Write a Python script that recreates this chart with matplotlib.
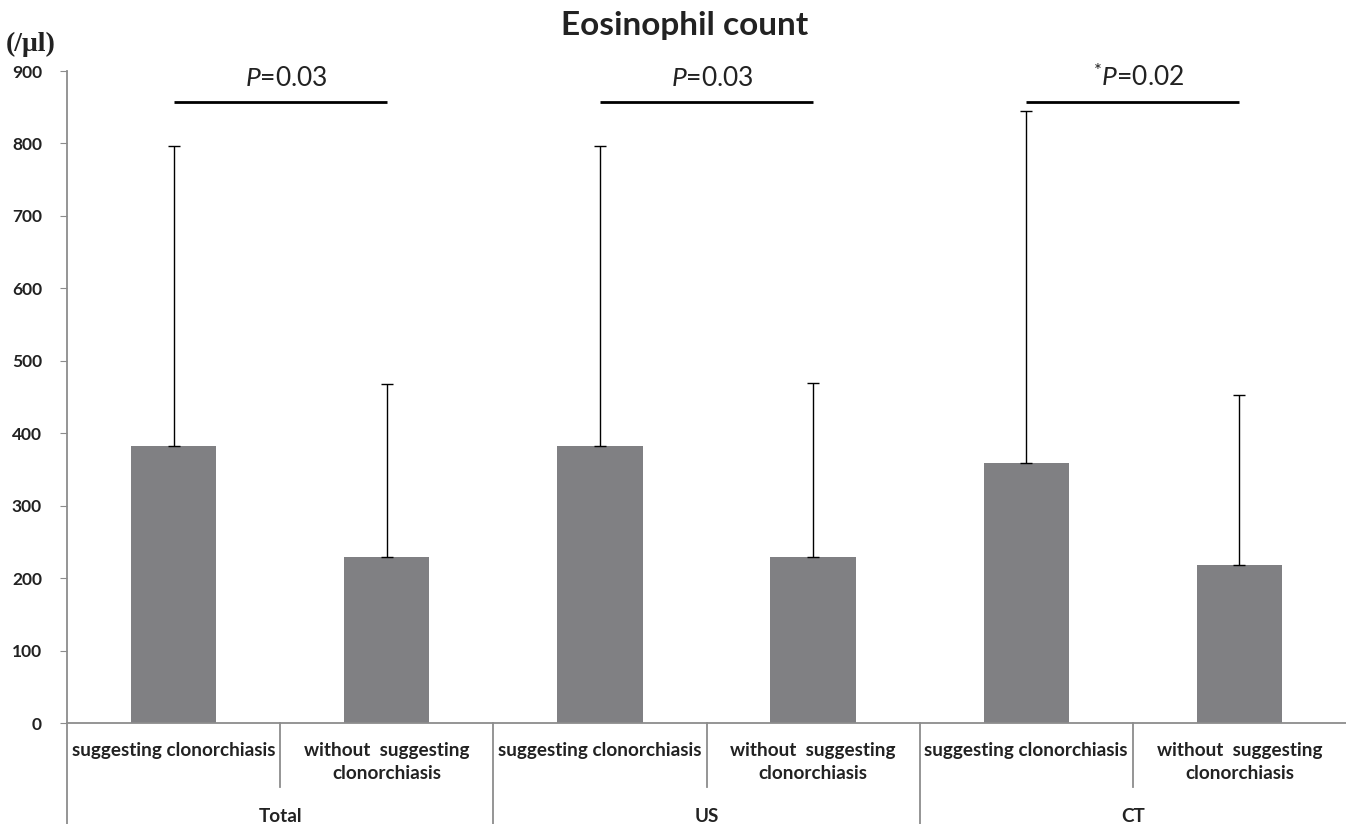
import matplotlib
matplotlib.use('Agg')
import matplotlib.pyplot as plt
import numpy as np

plt.rcParams['font.family'] = ['Lato', 'DejaVu Sans']
plt.rcParams['mathtext.fontset'] = 'custom'
plt.rcParams['mathtext.rm'] = 'Lato'
plt.rcParams['mathtext.it'] = 'Lato:italic'

groups = ['Total', 'US', 'CT']
categories = ['suggesting clonorchiasis', 'without  suggesting\nclonorchiasis'] * 3
means = [382, 229, 382, 229, 359, 218]
upper = [796, 468, 796, 469, 845, 453]
p_labels = [r'$\mathit{P}$=0.03', r'$\mathit{P}$=0.03', r'$^{*}\mathit{P}$=0.02']
yticks = [0, 100, 200, 300, 400, 500, 600, 700, 800, 900]

bar_color = '#808083'
axis_color = '#8c8c8c'
text_color = '#222222'

fig = plt.figure(figsize=(13.46, 8.24), dpi=100)
ax = fig.add_axes([67 / 1346, 101 / 824, 1279 / 1346, 652 / 824])

x = np.arange(len(means))
err = np.array(upper) - np.array(means)
ax.bar(x, means, width=0.4, color=bar_color, zorder=2)
ax.errorbar(x, means, yerr=[np.zeros_like(err), err], fmt='none',
            ecolor='black', elinewidth=1, capsize=4, capthick=1, zorder=3)

ax.set_xlim(-0.5, 5.5)
ax.set_ylim(0, 900)
ax.set_yticks(yticks)
ax.set_yticklabels([str(v) for v in yticks], fontweight='bold', fontsize=12.5,
                   color=text_color)
ax.tick_params(axis='y', length=5, color=axis_color, pad=13)
ax.set_xticks([])
for side in ['top', 'right']:
    ax.spines[side].set_visible(False)
for side in ['left', 'bottom']:
    ax.spines[side].set_color(axis_color)
    ax.spines[side].set_linewidth(1.3)

# category table below the axis
trans = ax.get_xaxis_transform()
px = 1 / 652
for i in range(5):
    xs = i + 0.5
    y_end = -64 * px if i % 2 == 0 else -110 * px
    ax.plot([xs, xs], [0, y_end], color=axis_color, lw=1.3,
            transform=trans, clip_on=False)
ax.plot([-0.5, -0.5], [0, -110 * px], color=axis_color, lw=1.3,
        transform=trans, clip_on=False)

for i, lab in enumerate(categories):
    ax.text(i, -19 * px, lab, transform=trans, ha='center', va='top',
            fontsize=13.6, fontweight='bold', color=text_color,
            linespacing=1.45)
for g, name in enumerate(groups):
    ax.text(2 * g + 0.5, -94 * px, name, transform=trans, ha='center',
            va='center', fontsize=13.6, fontweight='bold', color=text_color)

# significance brackets
for g, lab in enumerate(p_labels):
    ax.plot([2 * g, 2 * g + 1], [857, 857], color='black', lw=2,
            solid_capstyle='butt', clip_on=False)
    ax.text(2 * g + 0.53, 872, lab, ha='center', va='bottom', fontsize=19,
            color=text_color)

fig.text(685 / 1346, 1 - 25 / 824, 'Eosinophil count', ha='center', va='center',
         fontsize=24, fontweight='bold', color=text_color)
fig.text(6 / 1346, 1 - 44 / 824, '(/\u03bcl)', ha='left', va='center',
         fontsize=20, fontweight='bold', family='Liberation Serif',
         color=text_color)

fig.savefig('out.png', dpi=100)
